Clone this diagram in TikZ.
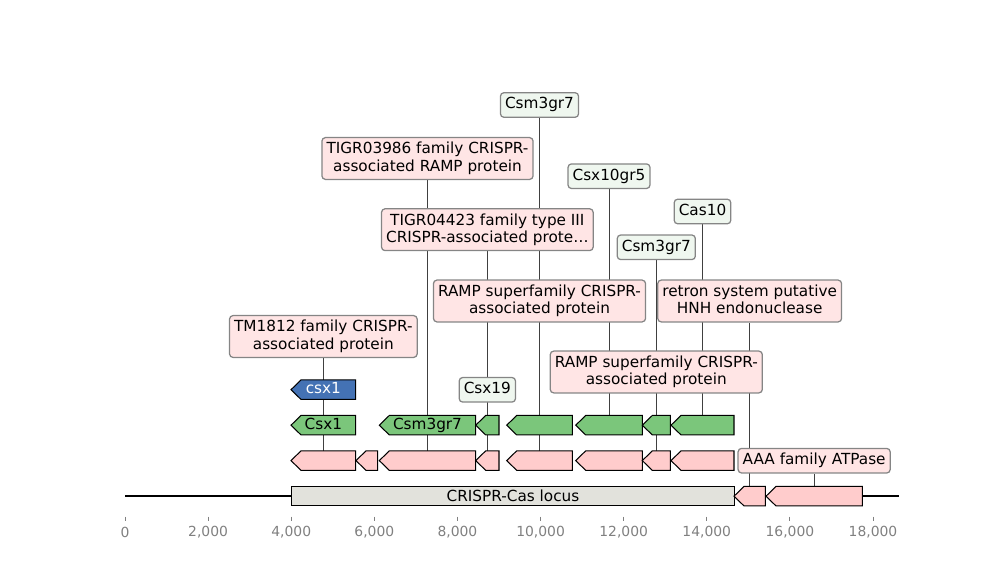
\documentclass[tikz,border=0pt]{standalone}
\usepackage{fontspec}
\setmainfont{DejaVu Sans}
\pgfdeclarelayer{bg}
\pgfsetlayers{bg,main}
\definecolor{featpink}{HTML}{FFCCCC}
\definecolor{featgreen}{HTML}{7BC67B}
\definecolor{featblue}{HTML}{4472B4}
\definecolor{lblpink}{HTML}{FFE5E5}
\definecolor{lblgreen}{HTML}{EFF7EF}
\definecolor{lblborder}{HTML}{858585}
\definecolor{locusfill}{HTML}{E2E2DC}
\definecolor{tickgrey}{HTML}{808080}
\newcommand{\gene}[5]{%
  \pgfmathsetmacro\gHead{#2+10}%
  \draw[#5] (#2,#4) -- (\gHead,#4-9.75) -- (#3,#4-9.75) -- (#3,#4+9.75) -- (\gHead,#4+9.75) -- cycle;
  \coordinate (#1) at ({(#2+#3)/2},#4);
}
\newcommand{\lstrut}{\rule[-2.7pt]{0pt}{11.1pt}}
\tikzset{
  feat/.style={draw=black, line width=0.75pt, line join=miter},
  pinkfeat/.style={feat, fill=featpink},
  greenfeat/.style={feat, fill=featgreen},
  bluefeat/.style={feat, fill=featblue},
  lbl/.style={draw=lblborder, line width=0.9pt, rounded corners=2.5pt, inner xsep=3.3pt, inner ysep=3.3pt, font=\fontsize{11pt}{12.4pt}\selectfont, align=center},
  pinklbl/.style={lbl, fill=lblpink},
  greenlbl/.style={lbl, fill=lblgreen},
  inl/.style={font=\fontsize{11pt}{12.4pt}\selectfont, inner sep=0pt},
  leader/.style={draw=black!75, line width=0.6pt},
  ticklbl/.style={font=\fontsize{10pt}{12pt}\selectfont, text=tickgrey, inner sep=0pt},
}
\begin{document}
\begin{tikzpicture}[x=0.72pt, y=-0.72pt]
\useasboundingbox (0,0) rectangle (1000,580);

% axis line and locus
\coordinate (axL) at (125,496.2);
\coordinate (axR) at (899,496.2);
\draw[line width=1.6pt] (axL) -- (axR);
\node[draw=black, line width=0.75pt, fill=locusfill, minimum width=443*0.72pt, minimum height=19.5*0.72pt, inner sep=0pt, anchor=west, font=\fontsize{11pt}{12.4pt}\selectfont] (locus) at (291,496.2) {CRISPR-Cas locus};
\gene{la}{734}{765.3}{496.2}{pinkfeat}
\gene{lb}{766}{862.3}{496.2}{pinkfeat}

% pink row
\gene{p1}{291}{355.7}{460.6}{pinkfeat}
\gene{p2}{356}{377.7}{460.6}{pinkfeat}
\gene{p3}{379.3}{475.7}{460.6}{pinkfeat}
\gene{p4}{475.7}{499}{460.6}{pinkfeat}
\gene{p5}{506.7}{572.3}{460.6}{pinkfeat}
\gene{p6}{575.7}{642.3}{460.6}{pinkfeat}
\gene{p7}{642.3}{670.3}{460.6}{pinkfeat}
\gene{p8}{671}{734}{460.6}{pinkfeat}

% green row
\gene{g1}{291}{355.7}{425.2}{greenfeat}
\gene{g3}{379.3}{475.7}{425.2}{greenfeat}
\gene{g4}{475.7}{499}{425.2}{greenfeat}
\gene{g5}{506.7}{572.3}{425.2}{greenfeat}
\gene{g6}{575.7}{642.3}{425.2}{greenfeat}
\gene{g7}{642.3}{670.3}{425.2}{greenfeat}
\gene{g8}{671}{734}{425.2}{greenfeat}

% blue row
\gene{b1}{291}{355.7}{389.7}{bluefeat}

% inline labels
\node[inl] (tg1) at (g1) {\lstrut Csx1};
\node[inl] (tg3) at (g3) {\lstrut Csm3gr7};
\node[inl, text=white] (tb1) at (b1) {\lstrut csx1};

% annotation boxes
\node[greenlbl] (csmA) at (g5 |- 0,105) {\lstrut Csm3gr7};
\node[pinklbl] (tigrA) at (p3 |- 0,158.5) {\lstrut TIGR03986 family CRISPR-\\\lstrut associated RAMP protein};
\node[greenlbl] (csx10) at (g6 |- 0,176.2) {\lstrut Csx10gr5};
\node[greenlbl] (cas10) at (g8 |- 0,211.5) {\lstrut Cas10};
\node[pinklbl] (tigrB) at (p4 |- 0,229.7) {\lstrut TIGR04423 family type III\\\lstrut CRISPR-associated prote…};
\node[greenlbl] (csmB) at (g7 |- 0,247.3) {\lstrut Csm3gr7};
\node[pinklbl] (rampA) at (p5 |- 0,301) {\lstrut RAMP superfamily CRISPR-\\\lstrut associated protein};
\node[pinklbl] (retron) at (la |- 0,301) {\lstrut retron system putative\\\lstrut HNH endonuclease};
\node[pinklbl] (tm) at (p1 |- 0,336.5) {\lstrut TM1812 family CRISPR-\\\lstrut associated protein};
\node[pinklbl] (rampB) at (p7 |- 0,372) {\lstrut RAMP superfamily CRISPR-\\\lstrut associated protein};
\node[greenlbl] (csx19) at (g4 |- 0,389.8) {\lstrut Csx19};
\node[pinklbl] (aaa) at (lb |- 0,460.7) {\lstrut AAA family ATPase};

% leader lines (behind)
\begin{pgfonlayer}{bg}
\draw[leader] (p1) -- (tm.south);
\draw[leader] (p3) -- (tigrA.south);
\draw[leader] (p4) -- (tigrB.south);
\draw[leader] (g4) -- (csx19.south);
\draw[leader] (p5) -- (rampA.south);
\draw[leader] (g5) -- (csmA.south);
\draw[leader] (g6) -- (csx10.south);
\draw[leader] (p7) -- (rampB.south);
\draw[leader] (g7) -- (csmB.south);
\draw[leader] (g8) -- (cas10.south);
\draw[leader] (la) -- (retron.south);
\draw[leader] (lb) -- (aaa.south);
\end{pgfonlayer}

% ticks (value in thousands)
\foreach \v/\t in {0/0,2/{2,000},4/{4,000},6/{6,000},8/{8,000},10/{10,000},12/{12,000},14/{14,000},16/{16,000},18/{18,000}}{
  \pgfmathsetmacro\tx{125+\v*41.556}
  \coordinate (tk\v) at (\tx,516.5);
  \coordinate (tke\v) at (\tx,521);
  \draw[tickgrey, line width=0.6pt] (tk\v) -- (tke\v);
  \node[ticklbl] (tl\v) at (\tx,532.5) {\t};
}
\end{tikzpicture}
\end{document}
